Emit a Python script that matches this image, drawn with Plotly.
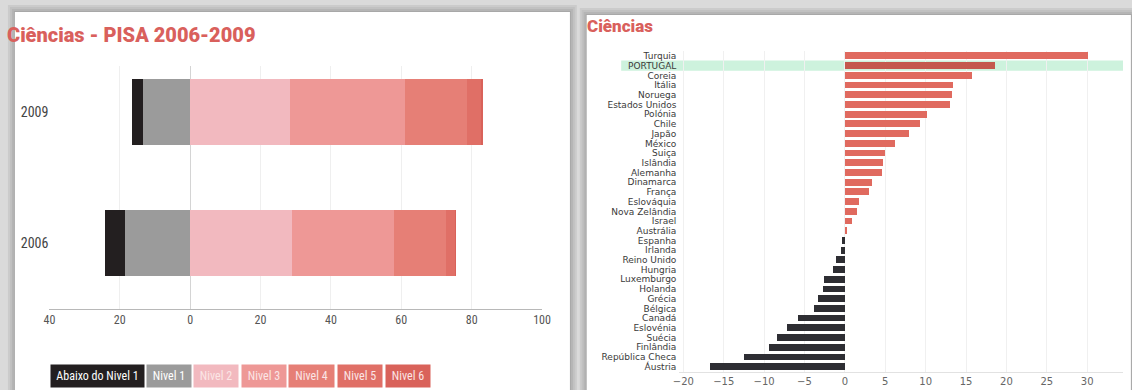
import plotly.graph_objects as go

W, H = 1132, 390

# ---------------- data: left panel (PISA levels, %) ----------------
years = ["2006", "2009"]
abaixo_nivel1 = [5.8, 3.2]
nivel1 = [18.4, 13.3]
nivel2 = [29.0, 28.5]
nivel3 = [29.0, 32.7]
nivel4 = [14.8, 17.7]
nivel5 = [2.7, 4.0]
nivel6 = [0.1, 0.3]
level_names = ["Abaixo do Nivel 1", "Nivel 1", "Nivel 2", "Nivel 3", "Nivel 4", "Nivel 5", "Nivel 6"]
left_tickvals = [-40, -20, 0, 20, 40, 60, 80, 100]
left_ticktext = ["40", "20", "0", "20", "40", "60", "80", "100"]

# ---------------- data: right panel (change in score) ----------------
countries = ["Turquia", "PORTUGAL", "Coreia", "Itália", "Noruega", "Estados Unidos", "Polónia",
             "Chile", "Japão", "México", "Suiça", "Islândia", "Alemanha", "Dinamarca", "França",
             "Eslováquia", "Nova Zelândia", "Israel", "Austrália", "Espanha", "Irlanda",
             "Reino Unido", "Hungria", "Luxemburgo", "Holanda", "Grécia", "Bélgica", "Canadá",
             "Eslovénia", "Suécia", "Finlândia", "República Checa", "Áustria"]
changes = [30.1, 18.6, 15.8, 13.4, 13.3, 13.1, 10.2, 9.3, 8.0, 6.2, 5.0, 4.8, 4.7, 3.4, 3.0,
           1.8, 1.6, 0.9, 0.35, -0.27, -0.43, -1.1, -1.4, -2.5, -2.7, -3.3, -3.8, -5.8,
           -7.1, -8.3, -9.3, -12.4, -16.6]
highlight = "PORTUGAL"
right_tickvals = [-20, -15, -10, -5, 0, 5, 10, 15, 20, 25, 30]

# ---------------- styles ----------------
level_colors = ["#231f20", "#9b9b9b", "#f2b9bf", "#ee9896", "#e67f76", "#e06f66", "#d9625a"]
coral = "#e06a5f"
coral_dark = "#c4584e"
dark = "#2e2e33"
title_color = "#d9605c"
COND = "Roboto Condensed, Liberation Sans Narrow, DejaVu Sans Condensed, Roboto, sans-serif"


def px_x(p):
    return p / W


def px_y(p):
    return 1 - p / H


fig = go.Figure()

# left panel stacked bars (negatives stack leftwards from 0)
left_series = [abaixo_nivel1, nivel1, nivel2, nivel3, nivel4, nivel5, nivel6]
draw_order = [1, 0, 2, 3, 4, 5, 6]
for i in draw_order:
    vals = left_series[i]
    sign = -1 if i < 2 else 1
    fig.add_trace(go.Bar(
        y=years, x=[sign * v for v in vals], orientation="h",
        name=level_names[i], marker=dict(color=level_colors[i], line=dict(width=0)),
        width=0.5, xaxis="x", yaxis="y", showlegend=False,
    ))

# right panel bars
bar_colors = [coral_dark if c == highlight else (coral if v >= 0 else dark)
              for c, v in zip(countries, changes)]
fig.add_trace(go.Bar(
    y=countries, x=changes, orientation="h",
    marker=dict(color=bar_colors, line=dict(width=0)),
    width=0.7, xaxis="x2", yaxis="y2", showlegend=False,
))

shapes = []
# panels with soft shadows
panels = [(8, 12, 571, 395), (588, 15, 1140, 395)]
for (x0, y0, x1, y1) in panels:
    for d, c in [(7, "#cbcbcb"), (5, "#c1c1c1"), (3, "#b5b5b5"), (1, "#a8a8a8")]:
        shapes.append(dict(type="rect", xref="paper", yref="paper", layer="below",
                           x0=px_x(x0 - d), x1=px_x(x1 + d), y0=px_y(y1 + d), y1=px_y(y0 - d),
                           fillcolor=c, line=dict(width=0)))
    shapes.append(dict(type="rect", xref="paper", yref="paper", layer="below",
                       x0=px_x(x0), x1=px_x(x1), y0=px_y(y1), y1=px_y(y0),
                       fillcolor="white", line=dict(width=0)))

# highlight band for Portugal
hi = countries.index(highlight)
shapes.append(dict(type="rect", xref="paper", yref="y2", layer="below",
                   x0=px_x(623), x1=1.0, y0=hi - 0.52, y1=hi + 0.52,
                   fillcolor="#cdf2dd", line=dict(width=0)))

annotations = []
annotations.append(dict(text="Ciências - PISA 2006-2009", xref="paper", yref="paper",
                        x=px_x(-2), y=px_y(35), xanchor="left", yanchor="middle", showarrow=False,
                        font=dict(family="Roboto, Lato, sans-serif", size=20, color=title_color,
                                  weight=900)))
annotations.append(dict(text="Ciências", xref="paper", yref="paper",
                        x=px_x(586), y=px_y(26), xanchor="left", yanchor="middle", showarrow=False,
                        font=dict(family="Roboto, Lato, sans-serif", size=17, color=title_color,
                                  weight=900)))

# legend boxes
leg_widths = [93, 44, 44, 44, 45, 44, 44]
lx = 43.3
for name, col, w in zip(level_names, level_colors, leg_widths):
    txtcol = "#ffffff" if col in ("#231f20", "#9b9b9b") else "#fbe6e6"
    annotations.append(dict(text=name, xref="paper", yref="paper", x=px_x(lx), y=px_y(375.5),
                            xanchor="left", yanchor="middle", showarrow=False,
                            width=w, height=22, borderpad=0, bgcolor=col,
                            font=dict(family=COND, size=12, color=txtcol)))
    lx += w + 4.3

fig.update_layout(
    width=W, height=H, margin=dict(l=0, r=0, t=0, b=0),
    paper_bgcolor="#dadada", plot_bgcolor="rgba(0,0,0,0)",
    barmode="relative", bargap=0,
    shapes=shapes, annotations=annotations,
    xaxis=dict(domain=[px_x(43), px_x(542.7)], range=[-40, 100], tickvals=left_tickvals,
               ticktext=left_ticktext, showgrid=True, gridcolor="#efefef", zeroline=True,
               zerolinecolor="#d4d4d4", zerolinewidth=1, showline=True, linecolor="#b8b8b8",
               tickfont=dict(family=COND, size=12, color="#555555"), anchor="y",
               fixedrange=True),
    yaxis=dict(domain=[px_y(308.5), px_y(66)], range=[-0.5, 1.351], type="category",
               categoryorder="array", categoryarray=years, showgrid=False, zeroline=False,
               tickfont=dict(family=COND, size=14, color="#444444"), anchor="x",
               ticklabelstandoff=0),
    xaxis2=dict(domain=[px_x(682), 1.0], range=[-20.49, 34.43], tickvals=right_tickvals,
                showgrid=True, gridcolor="#f0f0f0", zeroline=False, showline=True,
                linecolor="#e2e2e2", tickfont=dict(family="DejaVu Sans, sans-serif", size=10,
                                                   color="#666666"), anchor="y2"),
    yaxis2=dict(domain=[px_y(371.6), px_y(51.1)], type="category", categoryorder="array",
                categoryarray=countries, tickmode="array", tickvals=countries,
                range=[len(countries) - 0.5, -0.5], showgrid=False,
                zeroline=False, tickfont=dict(family="DejaVu Sans, sans-serif", size=9,
                                              color="#3a3a3a"), anchor="x2",
                ticklabelstandoff=2),
)

fig.write_html("out.html")
